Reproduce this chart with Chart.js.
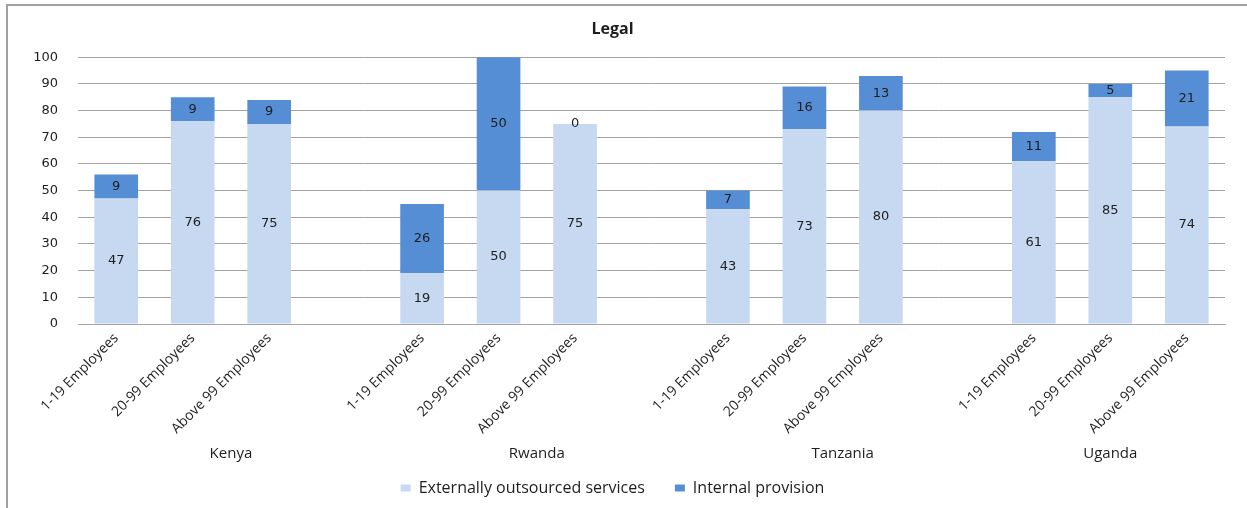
<!DOCTYPE html>
<html>
<head>
<meta charset="utf-8">
<title>Legal</title>
<script src="https://cdn.jsdelivr.net/npm/chart.js@4/dist/chart.umd.min.js"></script>
<style>
  html, body { margin: 0; padding: 0; background: #fff; }
  #chart { display: block; }
</style>
</head>
<body>
<canvas id="chart" width="1247" height="508"></canvas>
<script>
// Legal services: share of firms by size band and country
const countries = ['Kenya', 'Rwanda', 'Tanzania', 'Uganda'];
const sizeBands = ['1-19 Employees', '20-99 Employees', 'Above 99 Employees'];
const externallyOutsourced = [47, 76, 75, 19, 50, 75, 43, 73, 80, 61, 85, 74];
const internalProvision = [9, 9, 9, 26, 50, 0, 7, 16, 13, 11, 5, 21];
const yTicks = [0, 10, 20, 30, 40, 50, 60, 70, 80, 90, 100];

const LIGHT = '#c6d9f1';
const DARK = '#558ed5';
const GRID = '#a3a3a3';
const TEXT = '#1e1e1e';

// one empty slot between countries, like the spacing in the original sheet
const slotLabels = [];
const slotExternal = [];
const slotInternal = [];
const countrySlots = [];
countries.forEach((c, ci) => {
  const first = slotLabels.length;
  sizeBands.forEach((s, si) => {
    slotLabels.push(s);
    slotExternal.push(externallyOutsourced[ci * 3 + si]);
    slotInternal.push(internalProvision[ci * 3 + si]);
  });
  if (ci < countries.length - 1) {
    slotLabels.push('');
    slotExternal.push(null);
    slotInternal.push(null);
  }
  countrySlots.push([first, slotLabels.length - 1]);
});

const valueLabels = {
  id: 'valueLabels',
  afterDatasetsDraw(chart) {
    const ctx = chart.ctx;
    ctx.save();
    ctx.font = '13px "DejaVu Sans"';
    ctx.fillStyle = TEXT;
    ctx.textAlign = 'center';
    ctx.textBaseline = 'middle';
    chart.data.datasets.forEach((ds, di) => {
      chart.getDatasetMeta(di).data.forEach((bar, i) => {
        const v = ds.data[i];
        if (v === null || v === undefined) return;
        ctx.fillText(String(v), bar.x, (bar.y + bar.base) / 2);
      });
    });
    ctx.restore();
  }
};

const countryLabels = {
  id: 'countryLabels',
  afterDraw(chart) {
    const x = chart.scales.x;
    const half = (x.getPixelForValue(1) - x.getPixelForValue(0)) / 2;
    const ctx = chart.ctx;
    ctx.save();
    ctx.font = '15px "Open Sans"';
    ctx.fillStyle = TEXT;
    ctx.textAlign = 'center';
    ctx.textBaseline = 'middle';
    countries.forEach((c, ci) => {
      const [a, b] = countrySlots[ci];
      const cx = (x.getPixelForValue(a) - half + x.getPixelForValue(b) + half) / 2;
      ctx.fillText(c, cx, 454);
    });
    ctx.restore();
  }
};

// outer frame of the chart object
const frame = {
  id: 'frame',
  beforeDraw(chart) {
    const ctx = chart.ctx;
    ctx.save();
    ctx.strokeStyle = '#a0a0a0';
    ctx.lineWidth = 2;
    ctx.beginPath();
    ctx.moveTo(7, chart.height);
    ctx.lineTo(7, 5);
    ctx.lineTo(chart.width, 5);
    ctx.stroke();
    ctx.restore();
  }
};

new Chart(document.getElementById('chart'), {
  type: 'bar',
  data: {
    labels: slotLabels,
    datasets: [
      {
        label: 'Externally outsourced services',
        data: slotExternal,
        backgroundColor: LIGHT,
        barPercentage: 0.571,
        categoryPercentage: 1
      },
      {
        label: 'Internal provision',
        data: slotInternal,
        backgroundColor: DARK,
        barPercentage: 0.571,
        categoryPercentage: 1
      }
    ]
  },
  options: {
    responsive: false,
    animation: false,
    layout: { padding: { left: 0, right: 22, top: 0, bottom: 2 } },
    plugins: {
      title: {
        display: true,
        text: 'Legal',
        color: TEXT,
        font: { family: '"Open Sans"', size: 16, weight: 'bold' },
        padding: { top: 20, bottom: 18 }
      },
      legend: {
        position: 'bottom',
        labels: {
          color: TEXT,
          font: { family: '"Open Sans"', size: 16 },
          boxWidth: 10,
          boxHeight: 7,
          padding: 30
        }
      },
      tooltip: { enabled: false }
    },
    scales: {
      x: {
        stacked: true,
        grid: { display: false, drawTicks: false },
        border: { display: true, color: GRID, width: 1 },
        ticks: {
          autoSkip: false,
          minRotation: 45,
          maxRotation: 45,
          padding: 6,
          color: TEXT,
          font: { family: '"Open Sans"', size: 14 }
        },
        afterFit(scale) { scale.height = 126; }
      },
      y: {
        stacked: true,
        min: 0,
        max: 100,
        afterBuildTicks(scale) { scale.ticks = yTicks.map(v => ({ value: v })); },
        grid: { color: GRID, lineWidth: 1, drawTicks: false },
        border: { display: false },
        ticks: {
          padding: 20,
          color: TEXT,
          font: { family: '"DejaVu Sans"', size: 13 }
        },
        afterFit(scale) { scale.width = 78; }
      }
    }
  },
  plugins: [frame, valueLabels, countryLabels]
});
</script>
</body>
</html>
